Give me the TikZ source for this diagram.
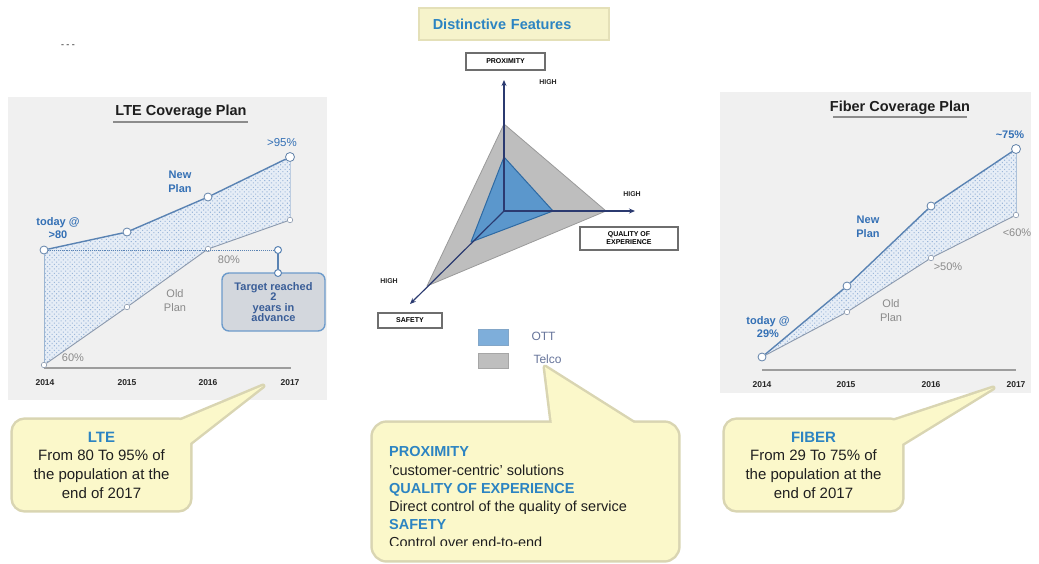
\documentclass[tikz,border=0pt]{standalone}
\usepackage{fontspec}
\setmainfont{Liberation Sans}
\usetikzlibrary{patterns,patterns.meta,backgrounds,arrows.meta}

\definecolor{panelbg}{HTML}{F0F0F0}
\definecolor{titlegray}{HTML}{1E1E1E}
\definecolor{ulgray}{HTML}{8C8C8C}
\definecolor{labblue}{HTML}{3470B5}
\definecolor{labgray}{HTML}{8A8A8A}
\definecolor{newblue}{HTML}{5A83B3}
\definecolor{oldgray}{HTML}{8C9AAE}
\definecolor{hatchbg}{HTML}{E6EDF6}
\definecolor{hatchdot}{HTML}{9BB7DA}
\definecolor{targetfill}{HTML}{D3D7DD}
\definecolor{targetedge}{HTML}{6D9BCB}
\definecolor{targettext}{HTML}{3A5E98}
\definecolor{axisnavy}{HTML}{2B3A70}
\definecolor{telcofill}{HTML}{BEBEBE}
\definecolor{telcoedge}{HTML}{9A9A9A}
\definecolor{ottfill}{HTML}{5B97CC}
\definecolor{ottedge}{HTML}{2E6AA3}
\definecolor{ottleg}{HTML}{7EAEDA}
\definecolor{legtext}{HTML}{66749A}
\definecolor{boxgray}{HTML}{6E6E6E}
\definecolor{callfill}{HTML}{FBF8CA}
\definecolor{callborder}{HTML}{D9D5B2}
\definecolor{callblue}{HTML}{2C84C2}
\definecolor{headfill}{HTML}{F6F3CB}
\definecolor{headedge}{HTML}{E4E0B8}

\begin{document}
\begin{tikzpicture}[x=1pt,y=-1pt,
  ptitle/.style={font=\bfseries\fontsize{14.5}{16}\selectfont, text=titlegray},
  year/.style={font=\bfseries\fontsize{8.5}{10}\selectfont, text=black!85},
  bluelab/.style={font=\bfseries\fontsize{11}{13.5}\selectfont, text=labblue, align=center},
  bluereg/.style={font=\fontsize{11.5}{13.5}\selectfont, text=labblue, align=center},
  graylab/.style={font=\fontsize{11}{14}\selectfont, text=labgray, align=center},
  bigdot/.style={circle, draw=newblue!80!gray, fill=white, line width=0.8, inner sep=0, minimum size=8},
  smalldot/.style={circle, draw=oldgray, fill=white, line width=0.6, inner sep=0, minimum size=5.5},
  newline/.style={draw=newblue, line width=1.4},
  oldline/.style={draw=oldgray, line width=0.9},
  baseline axis/.style={draw=ulgray!85, line width=1.6},
  hatch/.style={pattern={Dots[distance=3.2pt, radius=0.75pt, angle=45]}, pattern color=hatchdot},
  axisline/.style={draw=axisnavy, line width=1.2, -{Stealth[length=6,width=5]}},
  featbox/.style={draw=boxgray, line width=2.4, fill=white, font=\bfseries\fontsize{7}{8}\selectfont, align=center, inner sep=0},
  highlab/.style={font=\bfseries\fontsize{7}{8}\selectfont, text=black!85},
  swatch/.style={inner sep=0, minimum width=30, minimum height=16, line width=0.5},
  legtxt/.style={font=\fontsize{12}{14}\selectfont, text=legtext},
  callbox/.style={inner sep=0, font=\fontsize{15}{18.7}\selectfont, text=black!88, align=center},
  calledge/.style={draw=callborder, line width=5, line join=round},
  callpaint/.style={fill=callfill}
]
\useasboundingbox (0,0) rectangle (1039,563);

% ---------------- small mark at the top left
\node[font=\bfseries\fontsize{9}{10}\selectfont, text=black!60] (marks) at (68,46) {- - -};

% ================= LTE coverage plan =================
\node[ptitle] (ltetitle) at (181,112) {LTE Coverage Plan};
\draw[ulgray, line width=1.5] (113,122) -- (248,122);

\node[year] (ly14) at (45,383) {2014};
\node[year] (ly15) at (127,383) {2015};
\node[year] (ly16) at (208,383) {2016};
\node[year] (ly17) at (290,383) {2017};
\coordinate (lax0) at (44,368);
\coordinate (lax1) at (291,368);
\draw[baseline axis] (lax0) -- (lax1);

% plan points
\node[bigdot]   (ln14) at (44,250) {};
\node[bigdot]   (ln15) at (127,232) {};
\node[bigdot]   (ln16) at (208,197) {};
\node[bigdot, minimum size=9] (ln17) at (290,157) {};
\node[smalldot] (lo14) at (44,365) {};
\node[smalldot] (lo15) at (127,307) {};
\node[smalldot] (lo16) at (208,249) {};
\node[smalldot] (lo17) at (290,220) {};

\draw[newline] (ln14) -- (ln15) -- (ln16) -- (ln17);
\draw[oldline] (lo14) -- (lo15) -- (lo16) -- (lo17);
\draw[draw=newblue!60, line width=0.8] (ln14) -- (lo14);
\draw[draw=newblue!40, line width=0.6] (ln17) -- (lo17);

% target marker
\node[circle, draw=newblue, fill=white, line width=1, inner sep=0, minimum size=7] (lt17) at (278,250) {};
\node[draw=targetedge, fill=targetfill, line width=1.4, rounded corners=7,
      minimum width=103, minimum height=58, inner sep=0,
      font=\bfseries\fontsize{11}{10.5}\selectfont, text=targettext, align=center]
      (target) at (273.5,302) {Target reached\\2\\years in\\advance};
\node[circle, draw=newblue, fill=white, line width=1, inner sep=0, minimum size=7] (ltb) at (278,273) {};
\draw[newblue, line width=0.9, densely dotted] (ln14) -- (lt17);
\draw[newblue, line width=1.6] (lt17) -- (ltb);

\node[bluelab] (ltoday) at (58,228) {today @\\>80};
\node[bluereg] (l95) at (282,143) {>95\%};
\node[bluelab] (lnew) at (180,182) {New\\Plan};
\node[graylab] (lold) at (175,301) {Old\\Plan};
\node[graylab] (l80) at (229,260) {80\%};
\node[graylab] (l60) at (73,358) {60\%};

% ================= Fiber coverage plan =================
\node[ptitle] (fibtitle) at (900,108) {Fiber Coverage Plan};
\draw[ulgray, line width=1.5] (833,117) -- (967,117);

\node[year] (fy14) at (762,385) {2014};
\node[year] (fy15) at (846,385) {2015};
\node[year] (fy16) at (931,385) {2016};
\node[year] (fy17) at (1016,385) {2017};
\coordinate (fax0) at (762,370);
\coordinate (fax1) at (1016,370);
\draw[baseline axis] (fax0) -- (fax1);

\node[bigdot]   (f14)  at (762,357) {};
\node[bigdot]   (fn15) at (847,286) {};
\node[bigdot]   (fn16) at (931,206) {};
\node[bigdot, minimum size=9] (fn17) at (1016,149) {};
\node[smalldot] (fo15) at (847,312) {};
\node[smalldot] (fo16) at (931,258) {};
\node[smalldot] (fo17) at (1016,215) {};

\draw[newline] (f14) -- (fn15) -- (fn16) -- (fn17);
\draw[oldline] (f14) -- (fo15) -- (fo16) -- (fo17);
\draw[draw=newblue!50, line width=0.7] (fn17) -- (fo17);

\node[bluelab] (f75) at (1010,135) {\textasciitilde 75\%};
\node[bluelab] (fnew) at (868,227) {New\\Plan};
\node[graylab] (f60) at (1017,233) {<60\%};
\node[graylab] (f50) at (948,267) {>50\%};
\node[graylab] (fold) at (891,311) {Old\\Plan};
\node[bluelab] (ftoday) at (768,327) {today @\\29\%};

% ================= Distinctive features =================
\node[draw=headedge, fill=headfill, line width=1.5, anchor=west,
      text width=162, align=left, inner xsep=14, minimum height=32,
      font=\bfseries\fontsize{14.5}{16}\selectfont, text=callblue]
      (feat) at (418,24) {Distinctive Features};

\coordinate (O) at (504,211);
\coordinate (axU) at (504,80);
\coordinate (axR) at (635,211);
\coordinate (axL) at (410,304);

\coordinate (tU) at (504,124);
\coordinate (tR) at (606,211);
\coordinate (tL) at (427,286);
\coordinate (oU) at (504,157);
\coordinate (oR) at (553,211);
\coordinate (oL) at (471,242);

\filldraw[fill=telcofill, draw=telcoedge, line width=0.8, line join=round] (tU) -- (tR) -- (tL) -- cycle;
\filldraw[fill=ottfill, draw=ottedge, line width=1, line join=round] (oU) -- (oR) -- (oL) -- cycle;

\draw[axisline] (O) -- (axU);
\draw[axisline] (O) -- (axR);
\draw[axisline] (O) -- (axL);

\node[featbox, minimum width=79, minimum height=17] (prox) at (505.5,61.5) {PROXIMITY};
\node[featbox, minimum width=98, minimum height=23] (qoe) at (629,238.5) {QUALITY OF\\EXPERIENCE};
\node[featbox, minimum width=64, minimum height=15] (safe) at (410,320.5) {SAFETY};

\node[highlab] (hU) at (548,82) {HIGH};
\node[highlab] (hR) at (632,194) {HIGH};
\node[highlab] (hL) at (389,281) {HIGH};

\node[swatch, fill=ottleg, draw=ottedge!60] (ottsw) at (493,337) {};
\node[swatch, fill=telcofill, draw=gray!70, minimum height=15] (telsw) at (493,360.5) {};
\node[legtxt, anchor=west] (ottlab) at (528,336) {OTT};
\node[legtxt, anchor=west] (tellab) at (530,359) {Telco};

% ================= Callouts =================
\node[callbox, minimum width=177, minimum height=90] (ltecall) at (101.5,465)
  {{\color{callblue}\bfseries LTE}\\From 80 To 95\% of\\the population at the\\end of 2017};
\coordinate (ltetip) at (263,386);
\coordinate (lteb1) at (172,424);
\coordinate (lteb2) at (185,447);

\node[callbox, minimum width=177, minimum height=90] (fibcall) at (813.5,465)
  {{\color{callblue}\bfseries FIBER}\\From 29 To 75\% of\\the population at the\\end of 2017};
\coordinate (fibtip) at (993,388);
\coordinate (fibb1) at (884,424);
\coordinate (fibb2) at (897,447);

\node[inner sep=0, minimum width=305, minimum height=137] (ctrcall) at (525.5,491.5) {};
\coordinate (ctrtip) at (545,367);
\coordinate (ctrb1) at (553,432);
\coordinate (ctrb2) at (648,432);

\begin{scope}
  \clip (373,423) rectangle (678,545.5);
  \node[anchor=north west, inner sep=0, align=left, text=black!88,
        font=\fontsize{14.5}{18.2}\selectfont] (ctrtext) at (389,446.5)
    {{\color{callblue}\bfseries PROXIMITY}\\
     'customer-centric' solutions\\
     {\color{callblue}\bfseries QUALITY OF EXPERIENCE}\\
     Direct control of the quality of service\\
     {\color{callblue}\bfseries SAFETY}\\
     Control over end-to-end};
\end{scope}

% ================= background layer =================
\begin{pgfonlayer}{background}
  % panels
  \fill[panelbg] (8,97) rectangle (327,400);
  \fill[panelbg] (720,92) rectangle (1031,393);

  % shaded areas between the plans
  \fill[hatchbg] (ln14.center) -- (ln15.center) -- (ln16.center) -- (ln17.center)
     -- (lo17.center) -- (lo16.center) -- (lo15.center) -- (lo14.center) -- cycle;
  \path[hatch]
     (ln14.center) -- (ln15.center) -- (ln16.center) -- (ln17.center)
     -- (lo17.center) -- (lo16.center) -- (lo15.center) -- (lo14.center) -- cycle;
  \fill[hatchbg] (f14.center) -- (fn15.center) -- (fn16.center) -- (fn17.center)
     -- (fo17.center) -- (fo16.center) -- (fo15.center) -- cycle;
  \path[hatch]
     (f14.center) -- (fn15.center) -- (fn16.center) -- (fn17.center)
     -- (fo17.center) -- (fo16.center) -- (fo15.center) -- cycle;

  % callout outlines
  \draw[calledge, rounded corners=12] (ltecall.south west) rectangle (ltecall.north east);
  \draw[calledge] (ltetip) -- (lteb1) -- (lteb2) -- cycle;
  \draw[calledge, rounded corners=12] (fibcall.south west) rectangle (fibcall.north east);
  \draw[calledge] (fibtip) -- (fibb1) -- (fibb2) -- cycle;
  \draw[calledge, rounded corners=14] (ctrcall.south west) rectangle (ctrcall.north east);
  \draw[calledge] (ctrtip) -- (ctrb1) -- (ctrb2) -- cycle;
  % callout fills
  \fill[callpaint, rounded corners=12] (ltecall.south west) rectangle (ltecall.north east);
  \fill[callpaint] (ltetip) -- (lteb1) -- (lteb2) -- cycle;
  \fill[callpaint, rounded corners=12] (fibcall.south west) rectangle (fibcall.north east);
  \fill[callpaint] (fibtip) -- (fibb1) -- (fibb2) -- cycle;
  \fill[callpaint, rounded corners=14] (ctrcall.south west) rectangle (ctrcall.north east);
  \fill[callpaint] (ctrtip) -- (ctrb1) -- (ctrb2) -- cycle;
\end{pgfonlayer}
\end{tikzpicture}
\end{document}
